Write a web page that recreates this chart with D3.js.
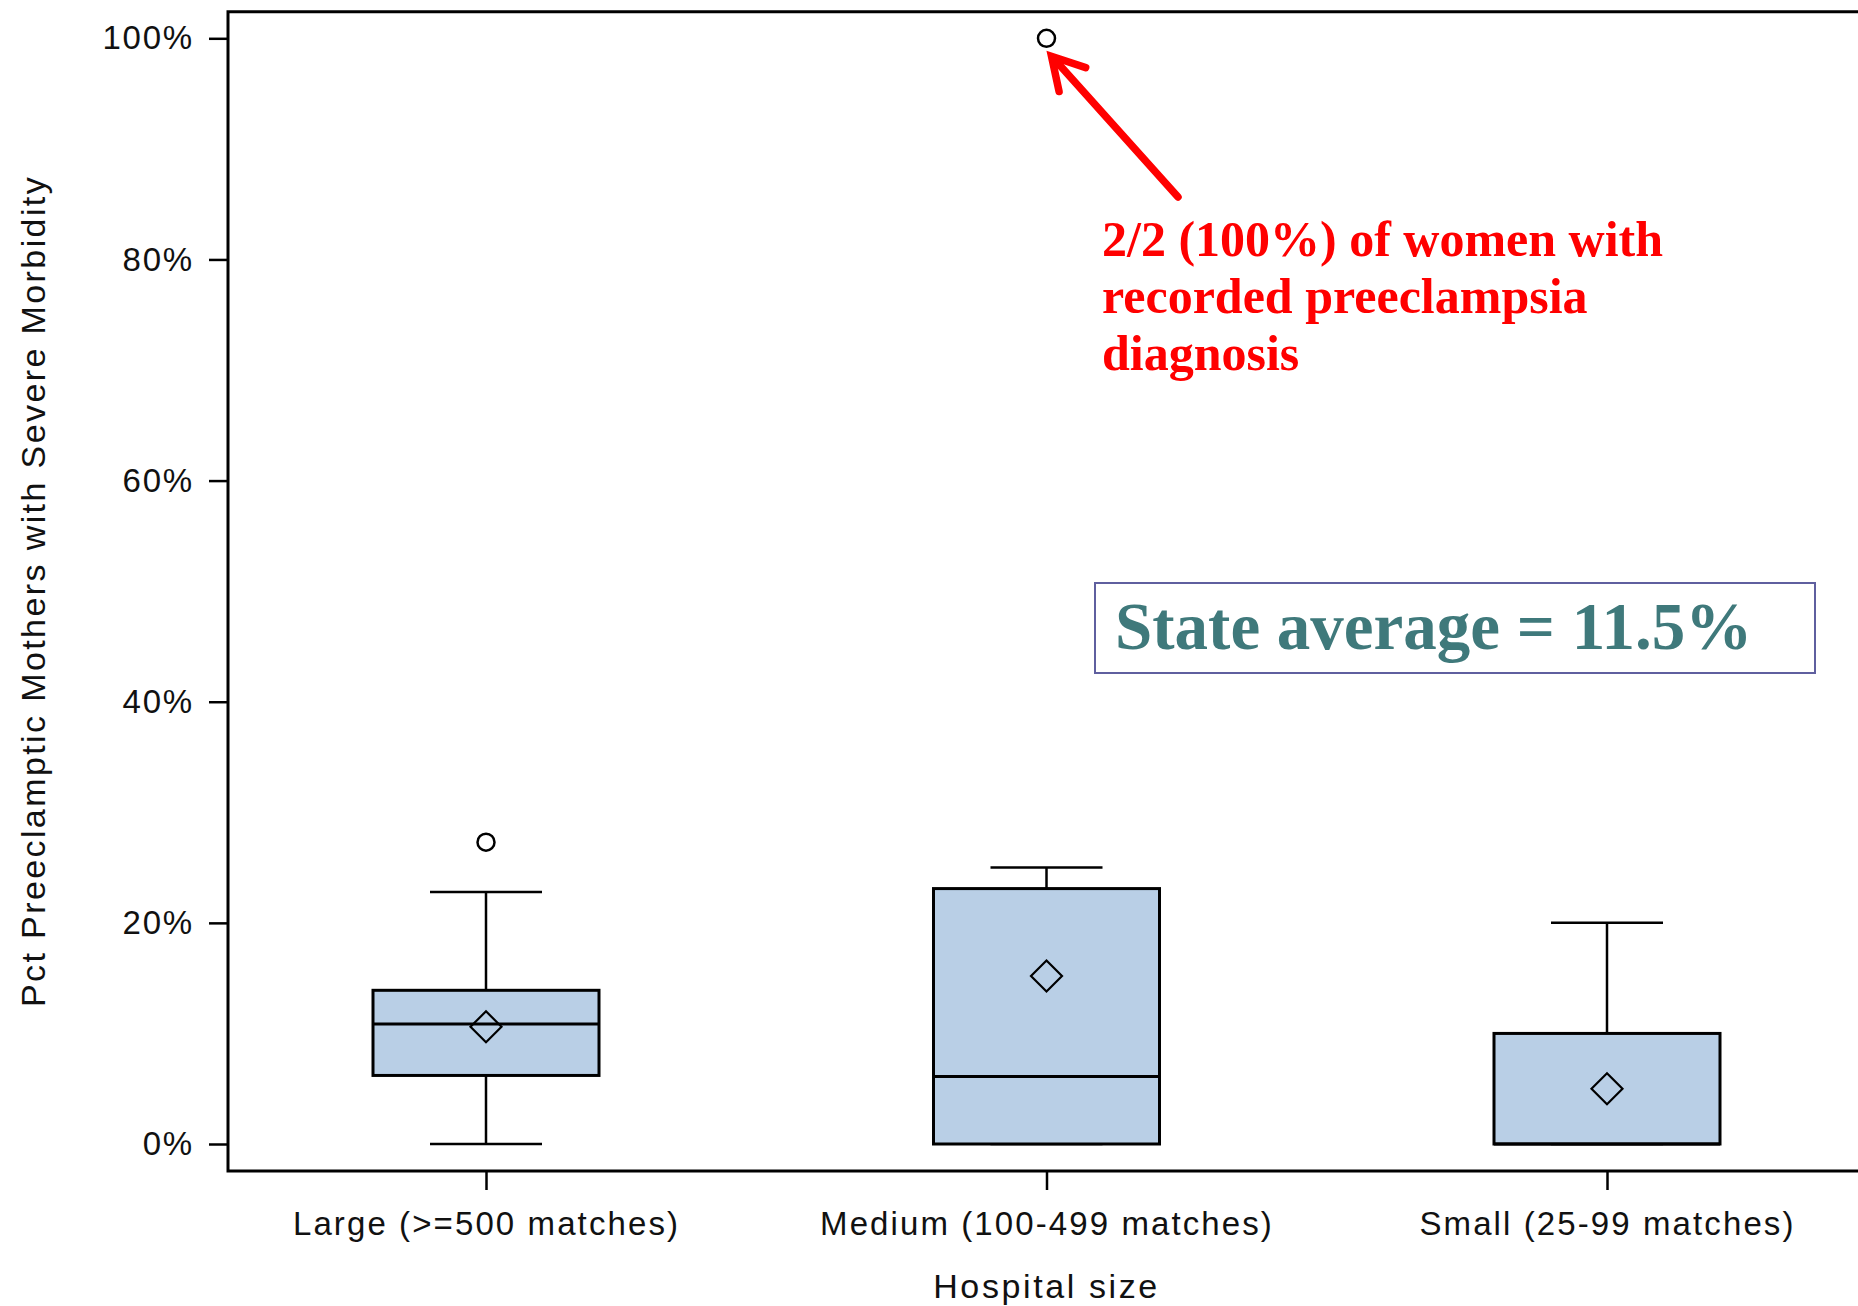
<!DOCTYPE html>
<html>
<head>
<meta charset="utf-8">
<script src="https://cdn.jsdelivr.net/npm/d3@7"></script>
<style>
  html, body { margin: 0; padding: 0; background: #fff; }
  svg { display: block; }
</style>
</head>
<body>
<svg id="chart" width="1858" height="1306"></svg>
<script>
// Hospital-size groups and their box-plot summaries (percent of preeclamptic mothers)
const categories = ["Large (>=500 matches)", "Medium (100-499 matches)", "Small (25-99 matches)"];
const whiskerLow  = [0, 0, 0];
const q1          = [6.2, 0, 0];
const median      = [10.85, 6.1, 0];
const q3          = [13.9, 23.1, 10.0];
const whiskerHigh = [22.8, 25.0, 20.0];
const means       = [10.6, 15.2, 5.0];
const outliers    = [[27.3], [100], []];
const yTicks      = [0, 20, 40, 60, 80, 100];

const stateAverageText = "State average = 11.5%";
const noteLines = ["2/2 (100%) of women with", "recorded preeclampsia", "diagnosis"];

const svg = d3.select("#chart");

// Plot frame
const frameLeft = 228, frameTop = 11.7, frameBottom = 1171, frameRight = 1866;

const x = d3.scalePoint().domain(categories).range([486, 1607]);
const y = d3.scaleLinear().domain([0, 100]).range([1144, 38.3]);

const boxW = 226, capW = 112;

const data = categories.map((c, i) => ({
  cat: c, lo: whiskerLow[i], q1: q1[i], med: median[i], q3: q3[i],
  hi: whiskerHigh[i], mean: means[i], out: outliers[i]
}));

const sans = "'Liberation Sans', Arial, sans-serif";
const serif = "'Liberation Serif', 'Times New Roman', serif";

// Axis frame lines
svg.append("path")
  .attr("d", `M${frameRight},${frameTop}H${frameLeft}V${frameBottom}H${frameRight}`)
  .attr("fill", "none").attr("stroke", "#000").attr("stroke-width", 3);

// Y axis
const yAxis = svg.append("g")
  .attr("transform", `translate(${frameLeft},0)`)
  .call(d3.axisLeft(y).tickValues(yTicks).tickFormat(d => d + "%").tickSize(19).tickPadding(15));
yAxis.select(".domain").remove();
yAxis.selectAll(".tick line").attr("stroke", "#000").attr("stroke-width", 2.5);
yAxis.selectAll(".tick text")
  .attr("font-family", sans)
  .attr("font-size", 33).attr("fill", "#111").attr("letter-spacing", 1.8);

// X axis
const xAxis = svg.append("g")
  .attr("transform", `translate(0,${frameBottom})`)
  .call(d3.axisBottom(x).tickSize(19).tickPadding(22));
xAxis.select(".domain").remove();
xAxis.selectAll(".tick line").attr("stroke", "#000").attr("stroke-width", 2.5);
xAxis.selectAll(".tick text")
  .attr("font-family", sans)
  .attr("font-size", 33).attr("fill", "#111").attr("letter-spacing", 2.1);

// Axis titles
svg.append("text")
  .attr("x", x(categories[1])).attr("y", 1298)
  .attr("text-anchor", "middle")
  .attr("font-family", sans)
  .attr("font-size", 34).attr("fill", "#111").attr("letter-spacing", 2.6)
  .text("Hospital size");

svg.append("text")
  .attr("transform", "translate(45,591) rotate(-90)")
  .attr("text-anchor", "middle")
  .attr("font-family", sans)
  .attr("font-size", 34).attr("fill", "#111").attr("letter-spacing", 2.4)
  .text("Pct Preeclamptic Mothers with Severe Morbidity");

// Boxes
const g = svg.append("g").selectAll("g").data(data).join("g")
  .attr("transform", d => `translate(${x(d.cat)},0)`);

// whisker stems
g.append("line").attr("x1", 0).attr("x2", 0)
  .attr("y1", d => y(d.q3)).attr("y2", d => y(d.hi))
  .attr("stroke", "#000").attr("stroke-width", 2.5);
g.append("line").attr("x1", 0).attr("x2", 0)
  .attr("y1", d => y(d.q1)).attr("y2", d => y(d.lo))
  .attr("stroke", "#000").attr("stroke-width", 2.5);
// whisker caps
g.append("line").attr("x1", -capW / 2).attr("x2", capW / 2)
  .attr("y1", d => y(d.hi)).attr("y2", d => y(d.hi))
  .attr("stroke", "#000").attr("stroke-width", 2.5);
g.append("line").attr("x1", -capW / 2).attr("x2", capW / 2)
  .attr("y1", d => y(d.lo)).attr("y2", d => y(d.lo))
  .attr("stroke", "#000").attr("stroke-width", 2.5);
// box
g.append("rect")
  .attr("x", -boxW / 2).attr("width", boxW)
  .attr("y", d => y(d.q3)).attr("height", d => y(d.q1) - y(d.q3))
  .attr("fill", "#b9cfe6").attr("stroke", "#000").attr("stroke-width", 3);
// median
g.append("line").attr("x1", -boxW / 2).attr("x2", boxW / 2)
  .attr("y1", d => y(d.med)).attr("y2", d => y(d.med))
  .attr("stroke", "#000").attr("stroke-width", 3);
// mean diamond
g.append("path")
  .attr("d", d => { const cy = y(d.mean), r = 15.5; return `M0,${cy - r}L${r},${cy}L0,${cy + r}L${-r},${cy}Z`; })
  .attr("fill", "none").attr("stroke", "#000").attr("stroke-width", 2.2);
// outliers
g.selectAll("circle").data(d => d.out).join("circle")
  .attr("cx", 0).attr("cy", v => y(v)).attr("r", 8.5)
  .attr("fill", "none").attr("stroke", "#000").attr("stroke-width", 2.5);

// Annotation arrow pointing at the 100% outlier
const tipX = x(categories[1]) + 5, tipY = y(100) + 18;
const tailX = 1178, tailY = 197;
const ang = Math.atan2(tailY - tipY, tailX - tipX);
const headLen = 36, spread = 0.52;
const arrow = svg.append("g").attr("stroke", "#ff0000").attr("stroke-width", 7.5)
  .attr("stroke-linecap", "round").attr("fill", "none");
arrow.append("line").attr("x1", tailX).attr("y1", tailY).attr("x2", tipX + 2).attr("y2", tipY + 2);
arrow.append("path")
  .attr("stroke-linejoin", "miter")
  .attr("d", `M${tipX + headLen * Math.cos(ang - spread)},${tipY + headLen * Math.sin(ang - spread)}L${tipX},${tipY}L${tipX + headLen * Math.cos(ang + spread)},${tipY + headLen * Math.sin(ang + spread)}`);

// Annotation text
svg.append("text")
  .attr("x", 1102).attr("y", 256)
  .attr("font-family", serif)
  .attr("font-weight", "bold").attr("font-size", 50).attr("fill", "#ff0000")
  .selectAll("tspan").data(noteLines).join("tspan")
  .attr("x", 1102).attr("dy", (d, i) => i === 0 ? 0 : 57)
  .text(d => d);

// State average callout
svg.append("rect")
  .attr("x", 1095).attr("y", 583).attr("width", 720).attr("height", 90)
  .attr("fill", "#fff").attr("stroke", "#5f5f9f").attr("stroke-width", 2);
svg.append("text")
  .attr("x", 1115).attr("y", 649)
  .attr("font-family", serif)
  .attr("font-weight", "bold").attr("font-size", 67).attr("fill", "#3f797b")
  .text(stateAverageText);
</script>
</body>
</html>
